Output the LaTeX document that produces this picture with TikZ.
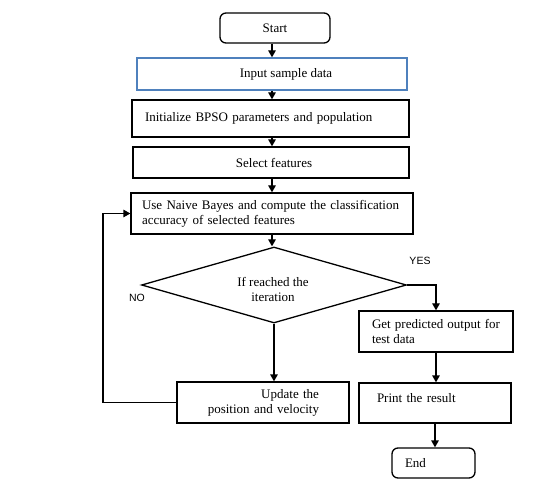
\documentclass[tikz,border=0pt]{standalone}
\usepackage{fontspec}
\setmainfont{Liberation Serif}
\newfontfamily\labelfont{Liberation Sans}
\usetikzlibrary{arrows.meta,shapes.geometric}
\definecolor{boxblue}{RGB}{79,129,189}
\begin{document}
\begin{tikzpicture}[x=1pt,y=-1pt,
  every node/.style={font=\fontsize{13}{15}\selectfont},
  box/.style={draw, rectangle, line width=1.3pt, inner ysep=0pt},
  term/.style={box, rounded corners=6pt},
  decision/.style={draw, diamond, line width=1.3pt, aspect=3.5, inner sep=0pt},
  arr/.style={line width=1.3pt, -{Triangle[length=7pt,width=7.5pt]}},
  yesno/.style={font=\labelfont\fontsize{10.5}{12}\selectfont}]
\useasboundingbox (0,0) rectangle (552,481);

% process steps
\node[term, minimum width=110pt, minimum height=30pt] (start) at (275,28) {Start};
\node[box, draw=boxblue, minimum width=270pt, minimum height=32pt] (input) at (272,74)
  {\hspace*{28pt}Input sample data};
\node[box, minimum width=277pt, minimum height=37pt, inner xsep=13pt, text width=251pt, align=left]
  (init) at (270.5,118.5) {Initialize BPSO parameters and population};
\node[box, minimum width=276pt, minimum height=31pt] (select) at (271,162.5)
  {\hspace*{6pt}Select features};
\node[box, minimum width=282pt, minimum height=41pt, inner xsep=11pt, text width=260pt, align=left]
  (nb) at (272,213.5) {Use Naive Bayes and compute the classification\\accuracy of selected features};
% decision diamond, its question set a little below the centre
\node[decision, minimum width=265pt, minimum height=76pt] (cond) at (274,285) {};
\node[align=center] (condtext) at (273,289) {If reached the\\iteration};
\node[box, minimum width=154pt, minimum height=41pt, inner xsep=13pt, text width=128pt, align=justify]
  (pred) at (436,331.5) {Get predicted output for test data};
\node[box, minimum width=152pt, minimum height=40pt, inner xsep=18pt, text width=116pt, align=left,
  text depth=10pt] (print) at (435,403) {Print the result};
\node[box, minimum width=172pt, minimum height=41pt, inner xsep=30pt, text width=112pt, align=right]
  (update) at (263,402.5) {Update the\\position and velocity};
\node[term, minimum width=83pt, minimum height=30pt, inner xsep=13pt, text width=57pt, align=left]
  (end) at (433.5,463) {End};

% branch labels
\node[yesno] (yes) at (420,261) {YES};
\node[yesno] (no) at (137,298) {NO};

% connectors
\coordinate (loopx) at (103,0);
\draw[arr] (input.north |- start.south) -- (input.north);
\draw[arr] (input.south) -- (input.south |- init.north);
\draw[arr] (input.south |- init.south) -- (input.south |- select.north);
\draw[arr] (input.south |- select.south) -- (input.south |- nb.north);
\draw[arr] (input.south |- nb.south) -- (input.south |- cond.north);
\draw[arr] (cond.south) -- (cond.south |- update.north);
\draw[arr] (cond.east) -| (pred.north);
\draw[arr] (pred.south) -- (pred.south |- print.north);
\draw[arr] (print.south) -- (print.south |- end.north);
\draw[arr] (update.west) -- (update.west -| loopx) |- (nb.west);
\end{tikzpicture}
\end{document}
